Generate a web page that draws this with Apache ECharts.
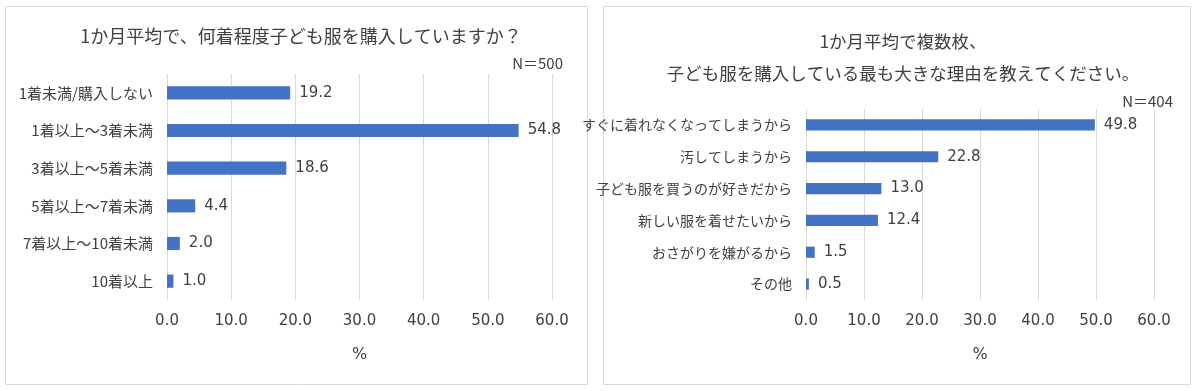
<!DOCTYPE html>
<html><head><meta charset="utf-8">
<script src="https://cdn.jsdelivr.net/npm/echarts@6/dist/echarts.min.js"></script>
<style>html,body{margin:0;padding:0;background:#fff}#c{width:1198px;height:391px}</style>
</head><body><div id="c"></div>
<script>
const leftTitle = '1か月平均で、何着程度子ども服を購入していますか？';
const leftN = 'N＝500';
const leftCategories = ['1着未満/購入しない','1着以上～3着未満','3着以上～5着未満','5着以上～7着未満','7着以上～10着未満','10着以上'];
const leftValues = [19.2, 54.8, 18.6, 4.4, 2.0, 1.0];

const rightTitle = '1か月平均で複数枚、\n子ども服を購入している最も大きな理由を教えてください。';
const rightN = 'N＝404';
const rightCategories = ['すぐに着れなくなってしまうから','汚してしまうから','子ども服を買うのが好きだから','新しい服を着せたいから','おさがりを嫌がるから','その他'];
const rightValues = [49.8, 22.8, 13.0, 12.4, 1.5, 0.5];

const axisName = '%';
const FONT = '"Noto Sans CJK JP", "Noto Sans", sans-serif';
const NUMFONT = '"DejaVu Sans", "Noto Sans CJK JP", sans-serif';
const TXT = '#404040';
const GRID = '#d9d9d9';
const BAR = '#4472C4';

const chart = echarts.init(document.getElementById('c'), null, {renderer:'canvas'});

function xAxis(idx){
  return {
    gridIndex: idx, type:'value', min:0, max:60, interval:10,
    axisLine:{show:false}, axisTick:{show:false},
    splitLine:{show:true, lineStyle:{color:GRID, width:1}},
    axisLabel:{color:TXT, fontSize:15, fontFamily:NUMFONT, margin:14, formatter:v=>v.toFixed(1)},
    name:axisName, nameLocation:'middle', nameGap:47,
    nameTextStyle:{color:TXT, fontSize:16, fontFamily:NUMFONT}
  };
}
function yAxis(idx, cats, fs){
  return {
    gridIndex: idx, type:'category', data:cats, inverse:true,
    axisLine:{show:false}, axisTick:{show:false}, splitLine:{show:false},
    axisLabel:{color:TXT, fontSize:fs, fontFamily:FONT, margin:14}
  };
}
function series(idx, vals){
  return {
    type:'bar', xAxisIndex:idx, yAxisIndex:idx, data:vals, barWidth:'35%',
    itemStyle:{color:BAR}, silent:true,
    label:{show:true, position:'right', distance:9, color:TXT, fontSize:15, fontFamily:NUMFONT, formatter:p=>p.value.toFixed(1)}
  };
}

chart.setOption({
  animation:false,
  backgroundColor:'#fff',
  title:[
    {text:leftTitle, left:296, top:22, textAlign:'center', textStyle:{color:TXT, fontSize:18, fontWeight:'normal', fontFamily:FONT}},
    {text:leftN, right:1198-568, top:51, textStyle:{color:TXT, fontSize:15, fontWeight:'normal', fontFamily:FONT}},
    {text:rightTitle, left:898, top:20, textAlign:'center', textStyle:{color:TXT, fontSize:17.5, fontWeight:'normal', fontFamily:FONT, lineHeight:32}},
    {text:rightN, right:1198-1178, top:89, textStyle:{color:TXT, fontSize:15, fontWeight:'normal', fontFamily:FONT}}
  ],
  graphic:[
    {type:'rect', shape:{x:5.5, y:6.5, width:582, height:378}, style:{fill:null, stroke:GRID, lineWidth:1}, z:-1},
    {type:'rect', shape:{x:603.5, y:6.5, width:587, height:378}, style:{fill:null, stroke:GRID, lineWidth:1}, z:-1}
  ],
  grid:[
    {left:167, right:1198-552, top:74, height:226},
    {left:806, right:1198-1154, top:109, height:191}
  ],
  xAxis:[xAxis(0), xAxis(1)],
  yAxis:[yAxis(0,leftCategories,15), yAxis(1,rightCategories,14)],
  series:[series(0,leftValues), series(1,rightValues)]
});
</script></body></html>
